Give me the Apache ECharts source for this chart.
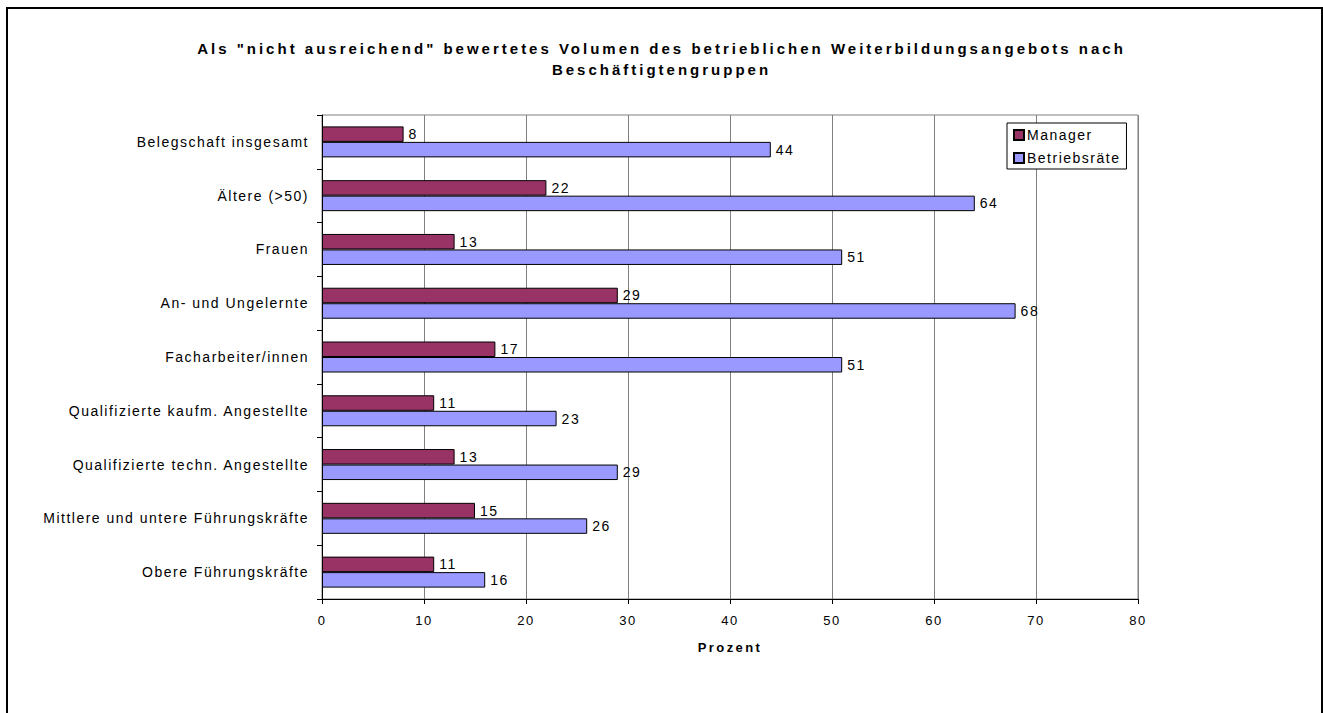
<!DOCTYPE html>
<html>
<head>
<meta charset="utf-8">
<script src="https://cdn.jsdelivr.net/npm/echarts@6/dist/echarts.min.js"></script>
<style>
  html, body { margin: 0; padding: 0; background: #fff; }
  #chart { width: 1323px; height: 713px; }
  /* the original has wide tracking on all text */
  #chart text { letter-spacing: 1.5px; }
  #chart text[style*="bold"] { letter-spacing: 2.4px; }
  #chart text[style*="bold"][style*="15px"] { letter-spacing: 3px; }
</style>
</head>
<body>
<div id="chart"></div>
<script>
  // Daten
  var categories = ['Belegschaft insgesamt', 'Ältere (>50)', 'Frauen', 'An- und Ungelernte',
    'Facharbeiter/innen', 'Qualifizierte kaufm. Angestellte', 'Qualifizierte techn. Angestellte',
    'Mittlere und untere Führungskräfte', 'Obere Führungskräfte'];
  var manager = [8, 22, 13, 29, 17, 11, 13, 15, 11];
  var betriebsraete = [44, 64, 51, 68, 51, 23, 29, 26, 16];
  var seriesNames = ['Manager', 'Betriebsräte'];

  var font = '"Liberation Sans", Arial, sans-serif';

  var chart = echarts.init(document.getElementById('chart'), null, {renderer: 'svg'});

  function barSeries(name, data, color) {
    return {
      type: 'bar',
      name: name,
      data: data,
      barWidth: 15.5,
      barGap: '0%',
      itemStyle: {color: color, borderColor: '#000', borderWidth: 1},
      label: {
        show: true,
        position: 'right',
        distance: 5,
        color: '#000',
        fontFamily: font,
        fontSize: 14
      }
    };
  }

  chart.setOption({
    animation: false,
    textStyle: {fontFamily: font},
    graphic: [{
      type: 'rect',
      shape: {x: 7, y: 8, width: 1315, height: 720},
      style: {fill: 'none', stroke: '#000', lineWidth: 2}
    }],
    title: {
      text: 'Als "nicht ausreichend" bewertetes Volumen des betrieblichen Weiterbildungsangebots nach\nBeschäftigtengruppen',
      left: 'center',
      top: 33,
      textStyle: {fontFamily: font, fontSize: 15, fontWeight: 'bold', color: '#000', lineHeight: 21}
    },
    legend: {
      orient: 'vertical',
      left: 1007,
      top: 123,
      padding: [5, 24, 4, 6],
      itemGap: 9,
      itemWidth: 10,
      itemHeight: 10,
      icon: 'rect',
      backgroundColor: '#fff',
      borderColor: '#000',
      borderWidth: 1,
      textStyle: {fontFamily: font, fontSize: 14, color: '#000', padding: [0, 0, 0, -2]},
      data: seriesNames
    },
    grid: {
      left: 322, right: 185, top: 115, bottom: 114,
      show: true, borderColor: '#808080', borderWidth: 1
    },
    xAxis: {
      type: 'value',
      min: 0,
      max: 80,
      interval: 10,
      name: 'Prozent',
      nameLocation: 'middle',
      nameGap: 42,
      nameTextStyle: {fontFamily: font, fontSize: 13, fontWeight: 'bold', color: '#000'},
      axisLine: {show: true, lineStyle: {color: '#000', width: 1}},
      axisTick: {show: true, length: 5, lineStyle: {color: '#000'}},
      axisLabel: {color: '#000', fontSize: 13, margin: 15},
      splitLine: {show: true, lineStyle: {color: '#808080', width: 1}}
    },
    yAxis: {
      type: 'category',
      inverse: true,
      data: categories,
      axisLine: {show: true, lineStyle: {color: '#000', width: 1}},
      axisTick: {show: true, length: 5, lineStyle: {color: '#000'}},
      axisLabel: {color: '#000', fontSize: 14, margin: 13}
    },
    series: [
      barSeries(seriesNames[0], manager, '#993366'),
      barSeries(seriesNames[1], betriebsraete, '#9999ff')
    ]
  });
</script>
</body>
</html>
